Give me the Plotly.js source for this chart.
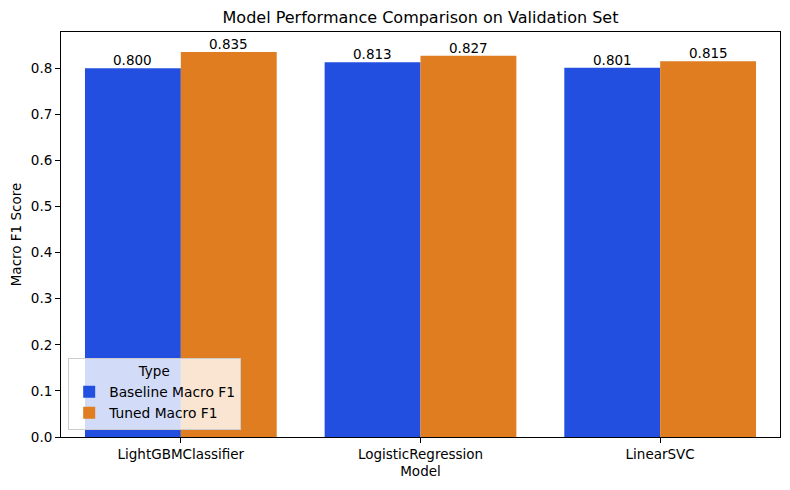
<!DOCTYPE html>
<html>
<head>
<meta charset="utf-8">
<script src="https://cdn.plot.ly/plotly-3.0.1.min.js"></script>
<style>html,body{margin:0;padding:0;background:#fff;}#chart{width:790px;height:490px;}</style>
</head>
<body>
<div id="chart"></div>
<script>
const models = ["LightGBMClassifier", "LogisticRegression", "LinearSVC"];
const baselineF1 = [0.800, 0.813, 0.801];
const tunedF1 = [0.835, 0.827, 0.815];
const seriesNames = ["Baseline Macro F1", "Tuned Macro F1"];
const yTicks = [0, 0.1, 0.2, 0.3, 0.4, 0.5, 0.6, 0.7, 0.8];

const font = "DejaVu Sans, sans-serif";
function barTrace(name, values, color) {
  return {
    type: "bar", name: name, x: models, y: values,
    marker: {color: color, line: {width: 0}},
    hoverinfo: "x+y"
  };
}
const data = [
  barTrace(seriesNames[0], baselineF1, "#224fdf"),
  barTrace(seriesNames[1], tunedF1, "#df7d20")
];
const annotations = [];
[baselineF1, tunedF1].forEach((vals, s) => {
  vals.forEach((v, i) => {
    annotations.push({
      x: i + (s === 0 ? -0.2 : 0.2), y: v, xref: "x", yref: "y",
      text: v.toFixed(3), showarrow: false, yanchor: "bottom", yshift: -2,
      font: {family: font, size: 13.5, color: "#000"}
    });
  });
});
const layout = {
  width: 790, height: 490,
  margin: {l: 61, r: 10, t: 32, b: 53},
  paper_bgcolor: "#fff", plot_bgcolor: "#fff",
  font: {family: font, size: 13.5, color: "#000"},
  title: {text: "Model Performance Comparison on Validation Set", font: {family: font, size: 16, color: "#000"}, xref: "paper", x: 0.5, xanchor: "center", y: 0.965, yanchor: "middle"},
  barmode: "group", bargap: 0.2, bargroupgap: 0,
  xaxis: {
    title: {text: "Model", font: {size: 13.5}, standoff: 5},
    range: [-0.5, 2.5], showline: true, linecolor: "#000", linewidth: 1, mirror: true,
    ticks: "outside", ticklen: 5, tickcolor: "#000", showgrid: false, tickfont: {size: 13.5}
  },
  yaxis: {
    title: {text: "Macro F1 Score", font: {size: 13.5}, standoff: 6},
    range: [0, 0.8785], tickvals: yTicks, ticktext: yTicks.map(v => v.toFixed(1)),
    showline: true, linecolor: "#000", linewidth: 1, mirror: true,
    ticks: "outside", ticklen: 5, tickcolor: "#000", showgrid: false, zeroline: false, tickfont: {size: 13.5}
  },
  annotations: annotations,
  showlegend: true,
  legend: {
    x: 0.01, y: 0.018, xanchor: "left", yanchor: "bottom",
    bgcolor: "rgba(255,255,255,0.8)", bordercolor: "#cccccc", borderwidth: 1,
    title: {text: "Type", side: "top center", font: {size: 13.5}},
    font: {size: 13.8}, tracegroupgap: 0, itemwidth: 30
  }
};
Plotly.newPlot("chart", data, layout, {displayModeBar: false, staticPlot: true});
</script>
</body>
</html>
